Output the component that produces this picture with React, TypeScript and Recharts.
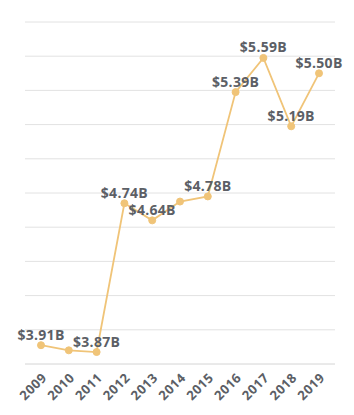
import React from 'react';
import { CartesianGrid, LabelList, Line, LineChart, XAxis, YAxis } from 'recharts';

const years = ['2009', '2010', '2011', '2012', '2013', '2014', '2015', '2016', '2017', '2018', '2019'];
const revenue = [3.91, 3.88, 3.87, 4.74, 4.64, 4.75, 4.78, 5.39, 5.59, 5.19, 5.5];
const pointLabels = ['$3.91B', '', '$3.87B', '$4.74B', '$4.64B', '', '$4.78B', '$5.39B', '$5.59B', '$5.19B', '$5.50B'];
const yTicks = [3.8, 4.0, 4.2, 4.4, 4.6, 4.8, 5.0, 5.2, 5.4, 5.6, 5.8];

const data = years.map((year, i) => ({ year, value: revenue[i], label: pointLabels[i] }));

const LINE = '#f0c478';
const TEXT = '#5c5f66';
const FONT = '"Open Sans", sans-serif';

const PointLabel = ({ x, y, value }: any) => {
  if (!value) return null;
  return (
    <text
      x={x}
      y={y - 11}
      textAnchor="middle"
      dominantBaseline="central"
      fill={TEXT}
      fontSize={14}
      fontWeight={700}
      fontFamily={FONT}
      letterSpacing={0.3}
    >
      {value}
    </text>
  );
};

export default function App() {
  return (
    <div style={{ position: 'absolute', top: 0, left: 0, width: 354, height: 415, background: '#fff' }}>
      <LineChart width={354} height={415} data={data} margin={{ top: 22, right: 19, bottom: 0, left: 25 }}>
        <CartesianGrid vertical={false} stroke="#e2e2e2" />
        <XAxis
          dataKey="year"
          axisLine={{ stroke: '#e2e2e2' }}
          tickLine={false}
          angle={-45}
          textAnchor="end"
          tick={{ fill: TEXT, fontSize: 13, fontWeight: 700, fontFamily: FONT, letterSpacing: 0.5 }}
          tickMargin={2}
          height={51}
          interval={0}
          padding={{ left: 16, right: 16 }}
        />
        <YAxis hide domain={[3.8, 5.8]} ticks={yTicks} width={0} />
        <Line
          type="linear"
          dataKey="value"
          stroke={LINE}
          strokeWidth={1.8}
          dot={{ r: 3.5, fill: LINE, stroke: LINE, strokeWidth: 1 }}
          activeDot={false}
          isAnimationActive={false}
        >
          <LabelList dataKey="label" content={<PointLabel />} />
        </Line>
      </LineChart>
    </div>
  );
}
